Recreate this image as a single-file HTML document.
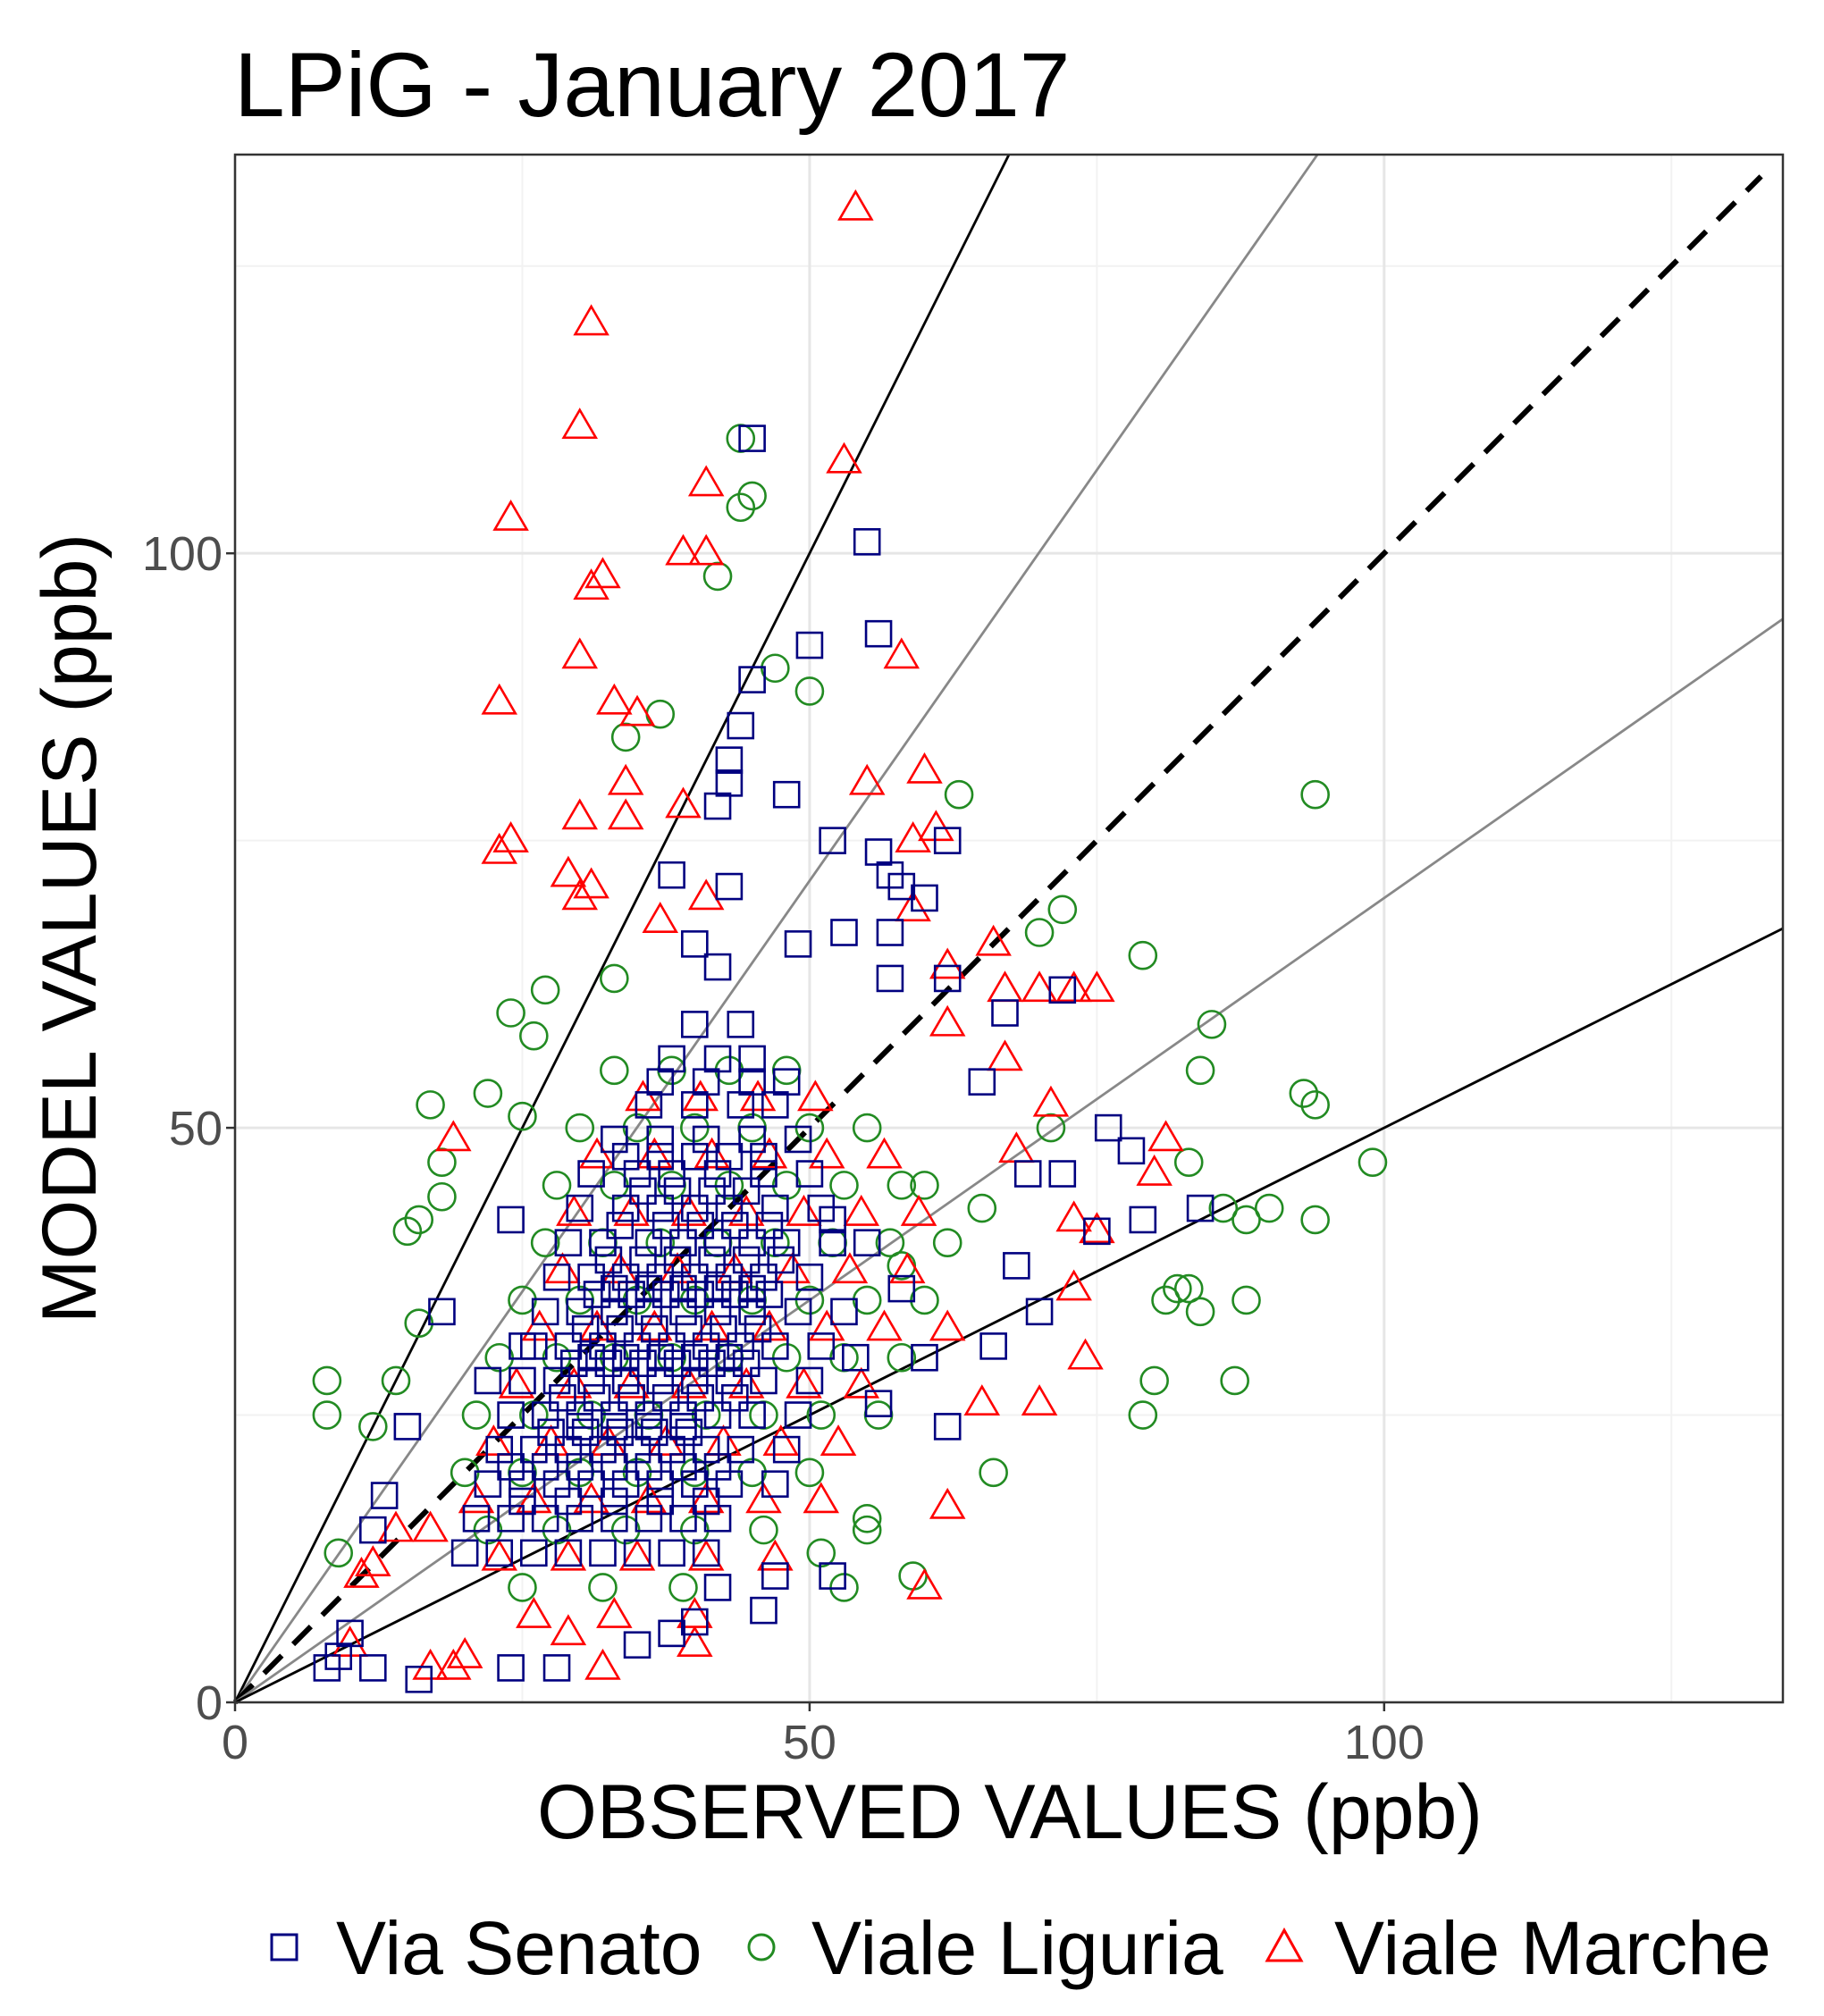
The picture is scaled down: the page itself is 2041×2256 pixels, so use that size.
<!DOCTYPE html>
<html><head><meta charset="utf-8">
<style>
html,body{margin:0;padding:0;background:#fff;}
svg{display:block;font-family:"Liberation Sans",Arial,sans-serif;}
</style></head>
<body>
<svg id="chart" width="2041" height="2256" viewBox="0 0 2041 2256" xmlns="http://www.w3.org/2000/svg">
<text x="262" y="130" font-size="102" fill="#000">LPiG - January 2017</text>
<g id="grid"></g>
<g id="refs"></g>
<g id="pts"></g>
<rect x="263" y="173" width="1732" height="1732" fill="none" stroke="#333" stroke-width="2.5"/>
<g id="ticks"></g>
<text x="1130" y="2057" font-size="86" text-anchor="middle" fill="#000">OBSERVED VALUES (ppb)</text>
<text transform="translate(107,1039) rotate(-90)" font-size="86" text-anchor="middle" fill="#000">MODEL VALUES (ppb)</text>
<g>
 <rect x="304" y="2165" width="28" height="28" fill="none" stroke="#000080" stroke-width="3"/>
 <text x="376" y="2209" font-size="84">Via Senato</text>
 <circle cx="852" cy="2179" r="14" fill="none" stroke="#228B22" stroke-width="3"/>
 <text x="908" y="2209" font-size="84">Viale Liguria</text>
 <path d="M1437,2160 L1456,2194 L1418,2194 Z" fill="none" stroke="#ff0000" stroke-width="3"/>
 <text x="1493" y="2209" font-size="84">Viale Marche</text>
</g>
</svg>
<script>
const xTicks=[0,50,100];
const yTicks=[0,50,100];
const minorTicks=[25,75,125];
const refSlopes=[2,1.43,1,0.7,0.5];
// [observed, model] pairs
const senatoPts=[[45,110],[55,101],[56,93],[50,92],[45,89],[44,85],[43,82],[43,80],[48,79],[42,78],[52,75],[56,74],[62,75],[57,72],[58,71],[38,72],[43,71],[53,67],[57,67],[49,66],[60,70],[42,64],[40,66],[57,63],[62,63],[72,62],[67,60],[65,54],[76,50],[78,48],[72,46],[69,46],[84,43],[75,41],[79,42],[68,38],[70,34],[66,31],[62,24],[46,8],[42,10],[47,11],[52,11],[13,18],[12,15],[18,34],[15,24],[10,6],[8,3],[9,4],[12,3],[16,2],[24,3],[28,3],[35,5],[38,6],[40,7],[24,42],[25,31],[22,28],[52,42],[55,40],[58,36],[60,30],[54,30],[56,26]];
// rows: [model, [observed...]]
const senatoRows=[[52,[36,40,44,47]],[49,[33,37,41,45,49]],[46,[31,35,38,42,46,50]],[43,[30,34,37,40,43,47,51]],[40,[29,32,36,39,42,45,48,52]],[37,[28,31,34,37,40,43,46,50]],[34,[27,30,33,36,39,42,45,49,53]],[31,[26,29,32,35,38,41,44,47,51]],[28,[25,28,31,34,37,40,43,46,50]],[25,[24,27,30,33,36,39,42,45,49]],[22,[23,26,29,32,35,38,41,44,48]],[19,[22,25,28,31,34,37,40,43,47]],[16,[21,24,27,30,33,36,39,42]],[13,[20,23,26,29,32,35,38,41]],[44.5,[35.5,38.5,41.5,44.5]],[41.5,[33.5,37.5,40.5,43.5,46.5]],[38.5,[32.5,35.5,38.5,41.5,44.5,47.5]],[35.5,[31.5,34.5,37.5,40.5,43.5,46.5]],[32.5,[30.5,33.5,36.5,39.5,42.5,45.5]],[29.5,[29.5,32.5,35.5,38.5,41.5,44.5]],[26.5,[28.5,31.5,34.5,37.5,40.5,43.5]],[23.5,[27.5,30.5,33.5,36.5,39.5]],[56,[38,42,45]],[59,[40,44]],[47.5,[34,37,40,43,46]],[54,[37,41,45,48]],[20.5,[24,27,30,33,36,39,42]],[17.5,[25,29,33,37,41]],[36,[33,36,39,42,45]],[30,[31,34,37,40,43]],[24,[30,33,36,39]]];
const liguriaPts=[[45,105],[44,104],[44,110],[42,98],[47,90],[50,88],[37,86],[34,84],[63,79],[94,79],[72,69],[70,67],[79,65],[85,59],[84,55],[93,53],[94,52],[71,50],[83,47],[99,47],[86,43],[90,43],[88,42],[94,42],[82,36],[83,36],[81,35],[84,34],[88,35],[80,28],[87,28],[79,25],[66,20],[55,16],[55,15],[51,13],[59,11],[53,10],[8,28],[8,25],[12,24],[14,28],[9,13],[16,33],[17,52],[18,47],[16,42],[15,41],[24,60],[26,58],[27,62],[33,63],[22,53],[25,51],[18,44],[62,40],[65,43],[60,45],[58,38]];
const liguriaRows=[[55,[33,38,43,48]],[50,[30,35,40,45,50,55]],[45,[28,33,38,43,48,53,58]],[40,[27,32,37,42,47,52,57]],[35,[25,30,35,40,45,50,55,60]],[30,[23,28,33,38,43,48,53,58]],[25,[21,26,31,36,41,46,51,56]],[20,[20,25,30,35,40,45,50]],[15,[22,28,34,40,46]],[10,[25,32,39]]];
const marchePts=[[54,130],[31,120],[30,111],[53,108],[41,106],[24,103],[31,97],[32,98],[39,100],[41,100],[30,91],[58,91],[23,87],[33,87],[35,86],[60,81],[55,80],[34,80],[30,77],[34,77],[39,78],[23,74],[24,75],[29,72],[31,71],[30,70],[59,75],[61,76],[37,68],[41,70],[59,69],[66,66],[62,64],[67,62],[70,62],[75,62],[73,62],[67,56],[62,59],[71,52],[68,48],[81,49],[80,46],[75,41],[73,42],[73,36],[74,30],[70,26],[65,26],[62,17],[60,10],[32,3],[20,4],[19,3],[17,3],[40,5],[29,6],[19,49],[14,15],[12,12],[11,11],[10,5],[17,15]];
const marcheRows=[[52.5,[35.5,40.5,45.5,50.5]],[47.5,[31.5,36.5,41.5,46.5,51.5,56.5]],[42.5,[29.5,34.5,39.5,44.5,49.5,54.5,59.5]],[37.5,[28.5,33.5,38.5,43.5,48.5,53.5,58.5]],[32.5,[26.5,31.5,36.5,41.5,46.5,51.5,56.5,62]],[27.5,[24.5,29.5,34.5,39.5,44.5,49.5,54.5]],[22.5,[22.5,27.5,32.5,37.5,42.5,47.5,52.5]],[17.5,[21,26,31,36,41,46,51]],[12.5,[23,29,35,41,47]],[7.5,[26,33,40]]];
const NS="http://www.w3.org/2000/svg";
const L=263,T=173,W=1732,MAXV=134.7;
const sx=v=>L+v/MAXV*W, sy=v=>T+W-v/MAXV*W;
function mk(tag,attrs,parent){const e=document.createElementNS(NS,tag);for(const k in attrs)e.setAttribute(k,attrs[k]);parent.appendChild(e);return e;}
const grid=document.getElementById('grid'),refs=document.getElementById('refs'),pts=document.getElementById('pts'),ticks=document.getElementById('ticks');
minorTicks.forEach(v=>{
 let a=mk('line',{x1:sx(v),x2:sx(v),y1:T,y2:T+W,stroke:'#f2f2f2','stroke-width':2},grid);
 
 
 let b=mk('line',{x1:L,x2:L+W,y1:sy(v),y2:sy(v),stroke:'#f2f2f2','stroke-width':2},grid);
 
 
});
xTicks.forEach(v=>{
 let a=mk('line',{x1:sx(v),x2:sx(v),y1:T,y2:T+W,stroke:'#e6e6e6','stroke-width':3},grid);
 
 
 let tk=mk('line',{x1:sx(v),x2:sx(v),y1:T+W,y2:T+W+10,stroke:'#333','stroke-width':2.5},ticks);
 
 
 let t=mk('text',{x:sx(v),y:1968,'font-size':54,'text-anchor':'middle',fill:'#4d4d4d'},ticks);
 t.textContent=v;
 
 
});
yTicks.forEach(v=>{
 let b=mk('line',{x1:L,x2:L+W,y1:sy(v),y2:sy(v),stroke:'#e6e6e6','stroke-width':3},grid);
 
 
 let tk=mk('line',{x1:L-10,x2:L,y1:sy(v),y2:sy(v),stroke:'#333','stroke-width':2.5},ticks);
 
 
 let t=mk('text',{x:L-14,y:sy(v)+19,'font-size':54,'text-anchor':'end',fill:'#4d4d4d'},ticks);
 t.textContent=v;
 
 
});
refSlopes.forEach(s=>{
 const xe=Math.min(MAXV,MAXV/s),ye=xe*s;
 const styles={2:['#000',2.8,''],1.43:['#888',2.8,''],1:['#000',6,'28,18'],0.7:['#888',2.8,''],0.5:['#000',2.8,'']};
 const st=styles[s];
 let xe2=s===1?132.8:xe, ye2=s===1?132.8:ye;
 let l=mk('line',{x1:sx(0),y1:sy(0),x2:sx(xe2),y2:sy(ye2),stroke:st[0],'stroke-width':st[1]},refs);
 if(st[2])l.setAttribute('stroke-dasharray',st[2]);
 
 
});
function expand(pairs,rows){const out=pairs.slice();rows.forEach(r=>r[1].forEach(x=>out.push([x,r[0]])));return out;}
function drawSeries(list,kind){
 list.forEach(p=>{
  const cx=sx(p[0]),cy=sy(p[1]);let e;
  if(kind==='sq'){e=mk('rect',{x:cx-14,y:cy-14,width:28,height:28,fill:'none',stroke:'#000080','stroke-width':2.6},pts);
   }
  else if(kind==='ci'){e=mk('circle',{cx:cx,cy:cy,r:15,fill:'none',stroke:'#228B22','stroke-width':2.6},pts);
   }
  else {e=mk('path',{d:`M${cx},${cy-19} L${cx+18},${cy+12} L${cx-18},${cy+12} Z`,fill:'none',stroke:'#ff0000','stroke-width':2.6},pts);
   }
  
 });
}
drawSeries(expand(liguriaPts,liguriaRows),'ci');
drawSeries(expand(marchePts,marcheRows),'tr');
drawSeries(expand(senatoPts,senatoRows),'sq');
</script>
</body></html>
